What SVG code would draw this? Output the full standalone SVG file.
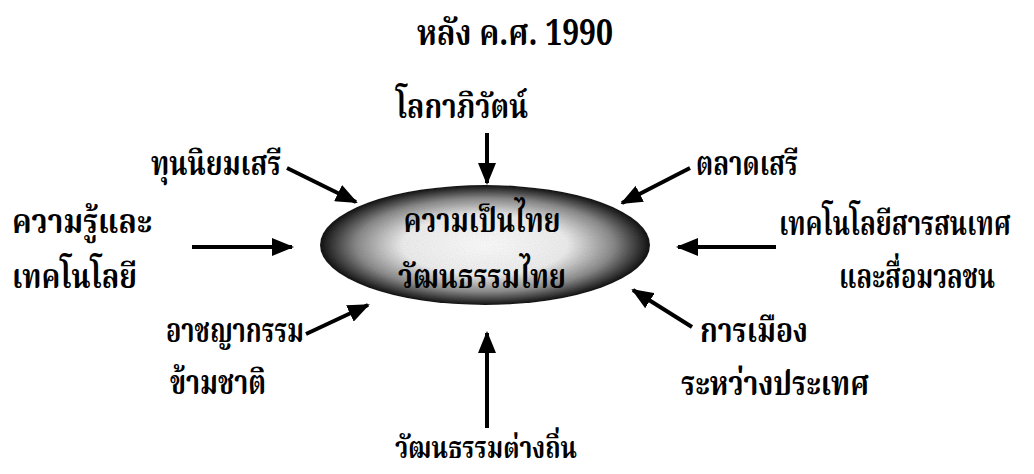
<svg xmlns="http://www.w3.org/2000/svg" width="1034" height="474" viewBox="0 0 1034 474">
<defs>
<radialGradient id="g" cx="0.5" cy="0.5" r="0.5">
<stop offset="0" stop-color="#ffffff"/>
<stop offset="0.5" stop-color="#f0f0f0"/>
<stop offset="0.78" stop-color="#8c8c8c"/>
<stop offset="1" stop-color="#111111"/>
</radialGradient>
<filter id="grain" x="0" y="0" width="1" height="1">
<feTurbulence type="fractalNoise" baseFrequency="0.9" numOctaves="1" seed="3" result="n"/>
<feColorMatrix in="n" type="matrix" values="0 0 0 0 0.5  0 0 0 0 0.5  0 0 0 0 0.5  0 0 0 0.35 0" result="nn"/>
<feComposite in="nn" in2="SourceGraphic" operator="in" result="clip"/>
<feBlend in="clip" in2="SourceGraphic" mode="multiply"/>
</filter>
<marker id="ah" markerUnits="userSpaceOnUse" markerWidth="22" markerHeight="18" refX="20" refY="9" orient="auto">
<path d="M0,0 L22,9 L0,18 Z" fill="#000"/>
</marker>
<style>
.t{font-family:'Noto Serif Thai','Noto Sans Thai','Liberation Serif',serif;font-weight:bold;font-size:33px;fill:#000}
.a{stroke:#000;stroke-width:4;fill:none;marker-end:url(#ah)}
</style>
</defs>
<rect width="1034" height="474" fill="#fff"/>
<g id="title"><text class="t" x="515" y="45" text-anchor="middle" style="font-size:36px" textLength="196" lengthAdjust="spacingAndGlyphs">หลัง ค.ศ. 1990</text></g>
<g id="center">
<ellipse cx="485" cy="245" rx="165" ry="60" fill="url(#g)" filter="url(#grain)"/>
<text class="t" x="482" y="232" text-anchor="middle" textLength="157" lengthAdjust="spacingAndGlyphs">ความเป็นไทย</text>
<text class="t" x="482" y="288" text-anchor="middle" textLength="168" lengthAdjust="spacingAndGlyphs">วัฒนธรรมไทย</text>
</g>
<g id="n-globalization"><text class="t" x="462" y="118" text-anchor="middle" textLength="132" lengthAdjust="spacingAndGlyphs">โลกาภิวัตน์</text></g>
<g id="n-capitalism"><text class="t" x="216" y="175" text-anchor="middle" textLength="130" lengthAdjust="spacingAndGlyphs">ทุนนิยมเสรี</text></g>
<g id="n-freemarket"><text class="t" x="747" y="175" text-anchor="middle" textLength="102" lengthAdjust="spacingAndGlyphs">ตลาดเสรี</text></g>
<g id="n-knowledge"><text class="t" x="12" y="233" textLength="140" lengthAdjust="spacingAndGlyphs">ความรู้และ</text><text class="t" x="12" y="288" textLength="125" lengthAdjust="spacingAndGlyphs">เทคโนโลยี</text></g>
<g id="n-ict">
<text class="t" transform="translate(779,235) scale(0.78,1)" x="0" y="0" textLength="297" lengthAdjust="spacingAndGlyphs">เทคโนโลยีสารสนเทศ</text>
<text class="t" transform="translate(917,288) scale(0.8,1)" x="0" y="0" text-anchor="middle" textLength="195" lengthAdjust="spacingAndGlyphs">และสื่อมวลชน</text>
</g>
<g id="n-crime"><text class="t" x="235" y="342" text-anchor="middle" textLength="138" lengthAdjust="spacingAndGlyphs">อาชญากรรม</text><text class="t" x="218" y="394" text-anchor="middle" textLength="96" lengthAdjust="spacingAndGlyphs">ข้ามชาติ</text></g>
<g id="n-politics"><text class="t" x="754" y="342" text-anchor="middle" textLength="108" lengthAdjust="spacingAndGlyphs">การเมือง</text><text class="t" x="775" y="395" text-anchor="middle" textLength="188" lengthAdjust="spacingAndGlyphs">ระหว่างประเทศ</text></g>
<g id="n-localculture"><text class="t" x="486" y="458" text-anchor="middle" style="font-size:30px" textLength="182" lengthAdjust="spacingAndGlyphs">วัฒนธรรมต่างถิ่น</text></g>
<g id="connectors">
<line class="a" x1="487" y1="133" x2="487" y2="183"/>
<line class="a" x1="287" y1="168" x2="356" y2="202"/>
<line class="a" x1="690" y1="168" x2="622" y2="203"/>
<line class="a" x1="192" y1="247" x2="292" y2="247"/>
<line class="a" x1="776" y1="247" x2="678" y2="247"/>
<line class="a" x1="306" y1="334" x2="368" y2="305"/>
<line class="a" x1="692" y1="327" x2="633" y2="290"/>
<line class="a" x1="487" y1="428" x2="487" y2="333"/>
</g>
</svg>
